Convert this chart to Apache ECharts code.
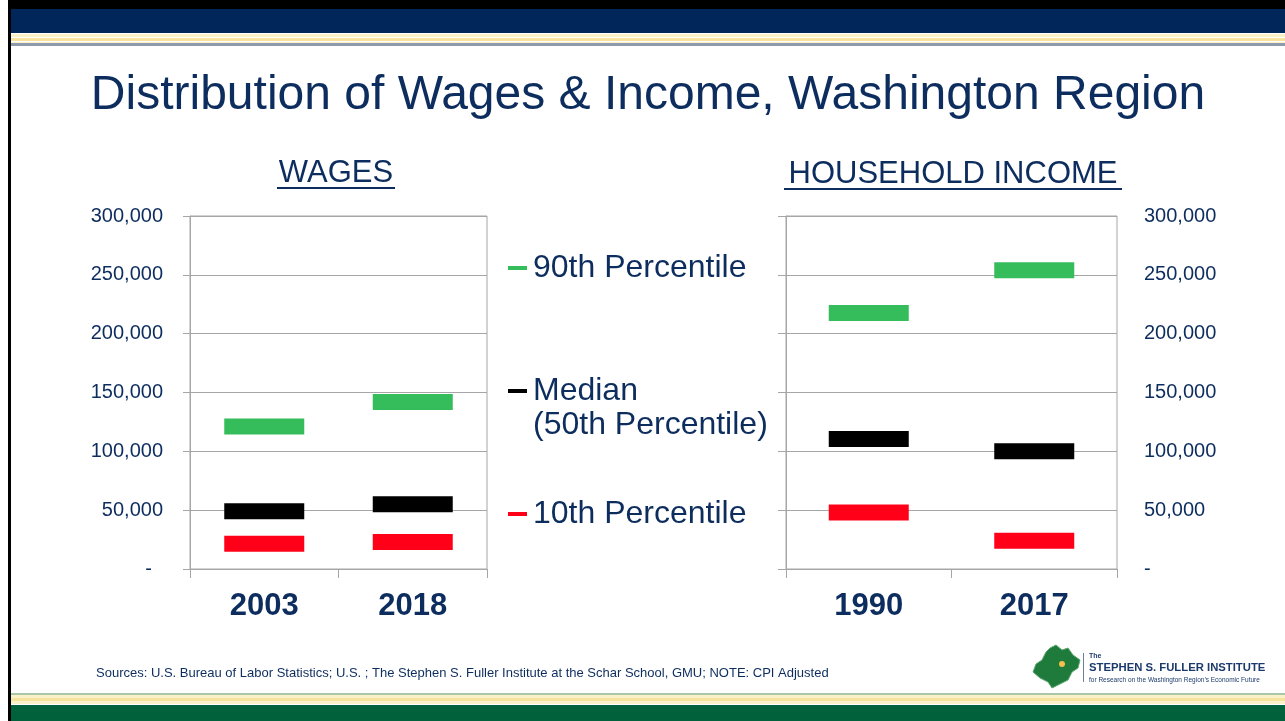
<!DOCTYPE html>
<html>
<head>
<meta charset="utf-8">
<title>Distribution of Wages & Income, Washington Region</title>
<script src="https://cdn.jsdelivr.net/npm/echarts@6/dist/echarts.min.js"></script>
<style>
  html, body { margin: 0; padding: 0; background: #fff; }
  #chart { width: 1285px; height: 721px; }
</style>
</head>
<body>
<div id="chart"></div>
<script>
// values (CPI adjusted dollars)
const wageYears = ['2003', '2018']
const incomeYears = ['1990', '2017']
const seriesNames = ['90th Percentile', 'Median', '10th Percentile']
const legendLabels = ['90th Percentile', 'Median\n(50th Percentile)', '10th Percentile']
const seriesColors = ['#35BD5C', '#000000', '#FF0018']

const wage90 = [121000, 142000]
const wageMedian = [49000, 55000]
const wage10 = [21500, 23000]

const income90 = [217500, 254000]
const incomeMedian = [110500, 100000]
const income10 = [48000, 24000]

const axisMin = 0
const axisMax = 300000
const axisStep = 50000

const navy = '#0D2D5E'
const gridGrey = '#A6A6A6'
const sans = '"Liberation Sans", Arial, sans-serif'

function moneyLabel(pad) {
  return function(v) {
    if (v === 0) return pad ? '-  ' : '-'
    return v.toLocaleString('en-US')
  }
}

function valueAxis(gridIndex, opts) {
  return Object.assign({
    type: 'value',
    gridIndex: gridIndex,
    min: axisMin,
    max: axisMax,
    interval: axisStep,
    axisLine: { show: true, lineStyle: { color: gridGrey } },
    axisTick: { show: true, length: 7, lineStyle: { color: gridGrey } },
    splitLine: { show: true, lineStyle: { color: gridGrey } },
    axisLabel: {
      show: true,
      margin: 27,
      color: navy,
      fontFamily: sans,
      fontSize: 20
    }
  }, opts)
}

function categoryAxis(gridIndex, data) {
  return {
    type: 'category',
    gridIndex: gridIndex,
    data: data,
    boundaryGap: true,
    axisLine: { show: true, lineStyle: { color: gridGrey } },
    axisTick: { show: true, length: 9, lineStyle: { color: gridGrey } },
    axisLabel: {
      margin: 22,
      color: navy,
      fontFamily: sans,
      fontWeight: 'bold',
      fontSize: 31,
      lineHeight: 31
    }
  }
}

function markSeries(name, data, color, xi, yi) {
  return {
    name: name,
    type: 'scatter',
    xAxisIndex: xi,
    yAxisIndex: yi,
    data: data,
    symbol: 'rect',
    symbolSize: [80, 16],
    itemStyle: { color: color, opacity: 1 },
    emphasis: { disabled: true },
    silent: true
  }
}

function buildLegend() {
  const items = []
  const marks = [268, 391, 514]
  legendLabels.forEach((label, i) => {
    items.push({
      type: 'rect',
      shape: { x: 508, y: marks[i] - 2, width: 19, height: 4 },
      style: { fill: seriesColors[i] }
    })
    label.split('\n').forEach((line, j) => {
      items.push({
        type: 'text',
        x: 533,
        y: marks[i] + 0.5 + j * 33.5,
        style: { text: line, fill: navy, font: '32px ' + sans, textVerticalAlign: 'middle' }
      })
    })
  })
  return items
}

function buildFrame() {
  return [
    // slide border + header band
    { type: 'rect', shape: { x: 8, y: 0, width: 1277, height: 9 }, style: { fill: '#000' } },
    { type: 'rect', shape: { x: 8, y: 0, width: 3, height: 721 }, style: { fill: '#000' } },
    { type: 'rect', shape: { x: 11, y: 9, width: 1274, height: 24 }, style: { fill: '#00265A' } },
    { type: 'rect', shape: { x: 11, y: 34, width: 1274, height: 3 }, style: { fill: '#FBF1C8' } },
    { type: 'rect', shape: { x: 11, y: 38, width: 1274, height: 3 }, style: { fill: '#F6E39E' } },
    { type: 'rect', shape: { x: 11, y: 42, width: 1274, height: 1 }, style: { fill: '#FBF1C8' } },
    { type: 'rect', shape: { x: 11, y: 43, width: 1274, height: 3 }, style: { fill: '#8E9BAC' } },
    // footer band
    { type: 'rect', shape: { x: 11, y: 693, width: 1274, height: 2 }, style: { fill: '#A9C7A6' } },
    { type: 'rect', shape: { x: 11, y: 695, width: 1274, height: 3 }, style: { fill: '#FBF1C8' } },
    { type: 'rect', shape: { x: 11, y: 698, width: 1274, height: 3 }, style: { fill: '#F6E39E' } },
    { type: 'rect', shape: { x: 11, y: 701, width: 1274, height: 3 }, style: { fill: '#FBF1C8' } },
    { type: 'rect', shape: { x: 11, y: 705, width: 1274, height: 16 }, style: { fill: '#00613A' } },
    // title
    {
      type: 'text', x: 648, y: 96,
      style: { text: 'Distribution of Wages & Income, Washington Region', fill: navy, font: '48px ' + sans, textAlign: 'center', textVerticalAlign: 'middle' }
    },
    // panel headings
    {
      type: 'text', x: 336, y: 173,
      style: { text: 'WAGES', fill: navy, font: '31px ' + sans, textAlign: 'center', textVerticalAlign: 'middle' }
    },
    { type: 'rect', shape: { x: 277, y: 187, width: 118, height: 2 }, style: { fill: navy } },
    {
      type: 'text', x: 953, y: 174,
      style: { text: 'HOUSEHOLD INCOME', fill: navy, font: '31px ' + sans, textAlign: 'center', textVerticalAlign: 'middle' }
    },
    { type: 'rect', shape: { x: 784, y: 188, width: 338, height: 2 }, style: { fill: navy } },
    // source note
    {
      type: 'text', x: 96, y: 673,
      style: { text: 'Sources: U.S. Bureau of Labor Statistics; U.S. ; The Stephen S. Fuller Institute at the Schar School, GMU; NOTE: CPI Adjusted', fill: navy, font: '13px ' + sans, textVerticalAlign: 'middle' }
    },
    // institute logo
    {
      type: 'polygon',
      shape: { points: [[1056, 645], [1062, 650], [1068, 648], [1073, 655], [1080, 660], [1078, 668], [1072, 672], [1068, 680], [1060, 684], [1052, 688], [1048, 682], [1040, 678], [1033, 672], [1036, 664], [1042, 660], [1046, 652], [1050, 648]] },
      style: { fill: '#1E7B3C', stroke: '#5FA86F', lineWidth: 1 }
    },
    { type: 'circle', shape: { cx: 1062, cy: 664, r: 3 }, style: { fill: '#F2C14E' } },
    { type: 'rect', shape: { x: 1083, y: 653, width: 1, height: 29 }, style: { fill: '#6C7FA0' } },
    { type: 'text', x: 1089, y: 656, style: { text: 'The', fill: '#1B3A6B', font: 'bold 7px ' + sans, textVerticalAlign: 'middle' } },
    { type: 'text', x: 1089, y: 668, style: { text: 'STEPHEN S. FULLER INSTITUTE', fill: '#1B3A6B', font: 'bold 11.3px ' + sans, textVerticalAlign: 'middle' } },
    { type: 'text', x: 1089, y: 680, style: { text: 'for Research on the Washington Region\u2019s Economic Future', fill: '#1B3A6B', font: '6.5px ' + sans, textVerticalAlign: 'middle' } }
  ]
}

const chart = echarts.init(document.getElementById('chart'), null, { renderer: 'canvas' })

const option = {
  animation: false,
  backgroundColor: '#fff',
  grid: [
    { left: 190, right: 798, top: 216, bottom: 152, show: true, borderColor: gridGrey, borderWidth: 1 },
    { left: 786, right: 168, top: 216, bottom: 152, show: true, borderColor: gridGrey, borderWidth: 1 }
  ],
  xAxis: [
    categoryAxis(0, wageYears),
    categoryAxis(1, incomeYears)
  ],
  yAxis: [
    valueAxis(0, { axisLabel: { margin: 27, color: navy, fontFamily: sans, fontSize: 20, formatter: moneyLabel(true) } }),
    valueAxis(1, { position: 'left', axisTick: { show: true, length: 8, lineStyle: { color: gridGrey } }, axisLabel: { show: false } }),
    valueAxis(1, {
      position: 'right',
      axisLine: { show: false },
      axisTick: { show: false },
      splitLine: { show: false },
      axisLabel: { margin: 27, color: navy, fontFamily: sans, fontSize: 20, formatter: moneyLabel(false) }
    })
  ],
  series: [
    markSeries(seriesNames[0], wage90, seriesColors[0], 0, 0),
    markSeries(seriesNames[1], wageMedian, seriesColors[1], 0, 0),
    markSeries(seriesNames[2], wage10, seriesColors[2], 0, 0),
    markSeries(seriesNames[0], income90, seriesColors[0], 1, 1),
    markSeries(seriesNames[1], incomeMedian, seriesColors[1], 1, 1),
    markSeries(seriesNames[2], income10, seriesColors[2], 1, 1)
  ],
  graphic: buildFrame().concat(buildLegend())
}

chart.setOption(option)
</script>
</body>
</html>
